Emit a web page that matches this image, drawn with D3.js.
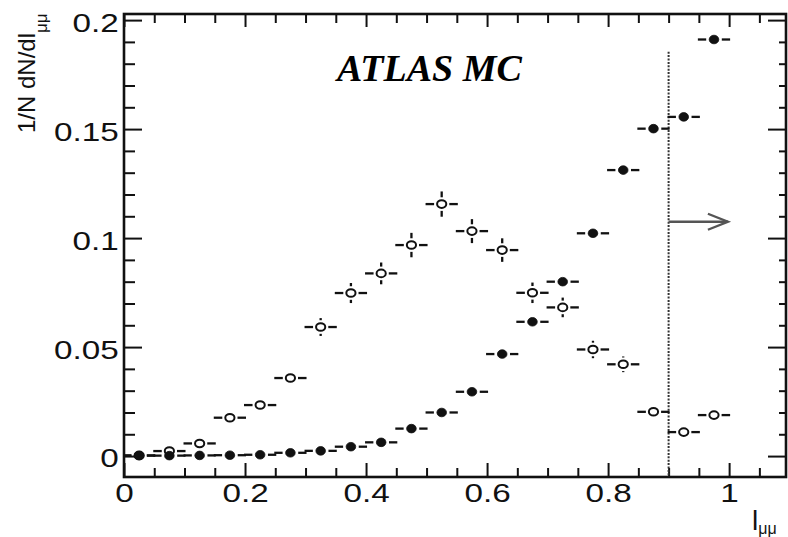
<!DOCTYPE html>
<html>
<head>
<meta charset="utf-8">
<script src="https://cdn.jsdelivr.net/npm/d3@7"></script>
<style>
  html, body { margin: 0; padding: 0; background: #fff; }
  svg { display: block; }
</style>
</head>
<body>
<svg id="chart" width="788" height="537"></svg>
<script>
// Bin centres of the l_mumu distribution (bin width 0.05)
const binCentres = [0.025, 0.075, 0.125, 0.175, 0.225, 0.275, 0.325, 0.375, 0.425, 0.475,
                    0.525, 0.575, 0.625, 0.675, 0.725, 0.775, 0.825, 0.875, 0.925, 0.975];
const binHalfWidth = 0.025;

// Filled markers
const filledValues = [0.0002, 0.0002, 0.0003, 0.0004, 0.0006, 0.0015, 0.0024, 0.0043, 0.0063, 0.0126,
                      0.0200, 0.0295, 0.0468, 0.0616, 0.0800, 0.1022, 0.1312, 0.1502, 0.1556, 0.1911];
const filledErrors = [0.0001, 0.0001, 0.0001, 0.0001, 0.0002, 0.0003, 0.0004, 0.0005, 0.0006, 0.0008,
                      0.0010, 0.0012, 0.0014, 0.0015, 0.0016, 0.0017, 0.0017, 0.0017, 0.0017, 0.0017];

// Open markers
const openValues = [0.0003, 0.0023, 0.0058, 0.0176, 0.0234, 0.0358, 0.0592, 0.0748, 0.0838, 0.0968,
                    0.1156, 0.1032, 0.0945, 0.0749, 0.0682, 0.0489, 0.0421, 0.0203, 0.0110, 0.0188];
const openErrors = [0.0003, 0.0008, 0.0013, 0.0022, 0.0026, 0.0032, 0.0041, 0.0046, 0.0050, 0.0056,
                    0.0058, 0.0055, 0.0054, 0.0047, 0.0045, 0.0040, 0.0036, 0.0024, 0.0018, 0.0023];

// Axis ticks
const xTickValues = [0, 0.2, 0.4, 0.6, 0.8, 1];
const xMinorTickValues = [0.05, 0.1, 0.15, 0.25, 0.3, 0.35, 0.45, 0.5, 0.55, 0.65, 0.7, 0.75,
                          0.85, 0.9, 0.95, 1.05];
const yTickValues = [0, 0.05, 0.1, 0.15, 0.2];
const yMinorTickValues = [0.01, 0.02, 0.03, 0.04, 0.06, 0.07, 0.08, 0.09, 0.11, 0.12, 0.13, 0.14,
                          0.16, 0.17, 0.18, 0.19];

// Selection cut and annotation
const cutValue = 0.9;
const cutLineTop = 0.1855;
const arrowLevel = 0.1075;
const arrowEnd = 0.998;
const titleText = "ATLAS MC";

const svg = d3.select("#chart");
const frame = { left: 124, right: 786, top: 14, bottom: 477 };

const x = d3.scaleLinear().domain([0, 1.094]).range([frame.left, frame.right]);
const y = d3.scaleLinear().domain([-0.0096, 0.2028]).range([frame.bottom, frame.top]);

const ink = "#111";
const labelFont = "'Liberation Sans', Arial, Helvetica, sans-serif";
const labelStretch = 1.28;

function styleAxis(g) {
  g.select(".domain").remove();
  g.selectAll(".tick line").attr("stroke", ink).attr("stroke-width", 2);
}

// Bottom axis
svg.append("g").attr("transform", `translate(0,${frame.bottom})`)
  .call(d3.axisBottom(x).tickValues(xMinorTickValues).tickSize(-9).tickFormat(""))
  .call(styleAxis);
const xAxisG = svg.append("g").attr("transform", `translate(0,${frame.bottom})`)
  .call(d3.axisBottom(x).tickValues(xTickValues).tickSize(-14).tickPadding(6.5)
        .tickFormat(d => String(d)))
  .call(styleAxis);
xAxisG.selectAll(".tick text")
  .attr("fill", ink).attr("font-family", labelFont).attr("font-size", 26)
  .attr("transform", `scale(${labelStretch},1)`);

// Top axis (ticks only)
svg.append("g").attr("transform", `translate(0,${frame.top})`)
  .call(d3.axisTop(x).tickValues(xMinorTickValues).tickSize(-9).tickFormat(""))
  .call(styleAxis);
svg.append("g").attr("transform", `translate(0,${frame.top})`)
  .call(d3.axisTop(x).tickValues(xTickValues).tickSize(-13).tickFormat(""))
  .call(styleAxis);

// Left axis
svg.append("g").attr("transform", `translate(${frame.left},0)`)
  .call(d3.axisLeft(y).tickValues(yMinorTickValues).tickSize(-11).tickFormat(""))
  .call(styleAxis);
const yAxisG = svg.append("g").attr("transform", `translate(${frame.left},0)`)
  .call(d3.axisLeft(y).tickValues(yTickValues).tickSize(-18).tickPadding(4)
        .tickFormat(d => String(d)))
  .call(styleAxis);
yAxisG.selectAll(".tick text")
  .attr("fill", ink).attr("font-family", labelFont).attr("font-size", 26)
  .attr("dy", "0.42em")
  .attr("transform", `scale(${labelStretch},1)`);

// Right axis (ticks only)
svg.append("g").attr("transform", `translate(${frame.right},0)`)
  .call(d3.axisRight(y).tickValues(yMinorTickValues).tickSize(-7).tickFormat(""))
  .call(styleAxis);
svg.append("g").attr("transform", `translate(${frame.right},0)`)
  .call(d3.axisRight(y).tickValues(yTickValues).tickSize(-18).tickFormat(""))
  .call(styleAxis);

// Frame
svg.append("rect")
  .attr("x", frame.left).attr("y", frame.top)
  .attr("width", frame.right - frame.left).attr("height", frame.bottom - frame.top)
  .attr("fill", "none").attr("stroke", ink).attr("stroke-width", 2.6);

// Cut line and arrow
svg.append("line")
  .attr("x1", x(cutValue)).attr("x2", x(cutValue))
  .attr("y1", y(cutLineTop)).attr("y2", frame.bottom)
  .attr("stroke", "#333").attr("stroke-width", 2).attr("stroke-dasharray", "2,1.4");

const ay = y(arrowLevel), ax0 = x(cutValue), ax1 = x(arrowEnd);
svg.append("line")
  .attr("x1", ax0).attr("x2", ax1).attr("y1", ay).attr("y2", ay)
  .attr("stroke", "#555").attr("stroke-width", 2.4);
svg.append("path")
  .attr("d", `M${ax1 - 20},${ay - 8}L${ax1},${ay}L${ax1 - 20},${ay + 8}`)
  .attr("fill", "none").attr("stroke", "#555").attr("stroke-width", 2.4);

// Points with error bars
function drawSeries(values, errors, marker) {
  const g = svg.append("g");
  const gap = 3;
  const rx = marker.rx, ry = marker.ry;
  const pts = binCentres.map((c, i) => ({ c, v: values[i], e: errors[i] }));
  const bars = [];
  pts.forEach(p => {
    const cx = x(p.c), cy = y(p.v);
    bars.push([x(p.c - binHalfWidth) - 1, cy, cx - rx - gap, cy]);
    bars.push([cx + rx + gap, cy, x(p.c + binHalfWidth) + 1, cy]);
    const up = y(p.v + p.e), dn = y(p.v - p.e);
    if (cy - ry - gap > up + 1) {
      bars.push([cx, cy - ry - gap, cx, up]);
      bars.push([cx, cy + ry + gap, cx, dn]);
    }
  });
  g.selectAll("line").data(bars).join("line")
    .attr("x1", d => d[0]).attr("y1", d => d[1])
    .attr("x2", d => d[2]).attr("y2", d => d[3])
    .attr("stroke", ink).attr("stroke-width", 2.3);
  g.selectAll("ellipse").data(pts).join("ellipse")
    .attr("cx", d => x(d.c)).attr("cy", d => y(d.v))
    .attr("rx", rx).attr("ry", ry)
    .attr("fill", marker.fill).attr("stroke", ink).attr("stroke-width", marker.sw);
}

drawSeries(openValues, openErrors, { rx: 4.6, ry: 3.8, fill: "#fff", sw: 2 });
drawSeries(filledValues, filledErrors, { rx: 4.8, ry: 4.3, fill: ink, sw: 0.8 });

// Title inside the frame
svg.append("text")
  .attr("x", 337).attr("y", 81)
  .attr("font-family", "'Liberation Serif', 'Times New Roman', serif")
  .attr("font-weight", "bold").attr("font-style", "italic")
  .attr("font-size", 38).attr("fill", "#000")
  .text(titleText);

// Axis titles
const yTitle = svg.append("text")
  .attr("transform", "translate(35,133) rotate(-90)")
  .attr("font-family", labelFont).attr("font-size", 24).attr("fill", ink);
yTitle.append("tspan").text("1/N dN/dl");
yTitle.append("tspan").attr("font-size", 17).attr("dy", 12).text("μμ");

const xTitle = svg.append("text")
  .attr("x", 752).attr("y", 530)
  .attr("font-family", labelFont).attr("font-size", 28).attr("fill", ink);
xTitle.append("tspan").text("l");
xTitle.append("tspan").attr("font-size", 16).attr("dy", 4).text("μμ");
</script>
</body>
</html>
